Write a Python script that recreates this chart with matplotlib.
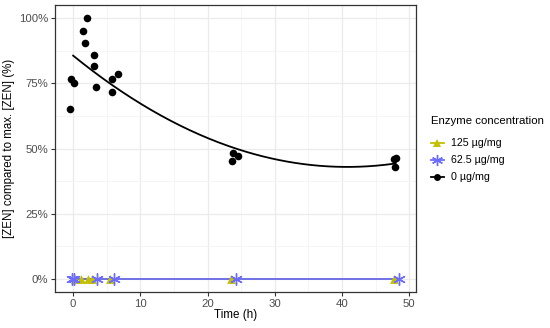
import matplotlib
matplotlib.use('Agg')
import matplotlib.pyplot as plt
import numpy as np
from matplotlib.lines import Line2D

plt.rcParams['font.family'] = ['Liberation Sans', 'DejaVu Sans']

# 0 ug/mg (control)
t0 = [-0.45, -0.3, 0.2, 1.5, 1.7, 2.0, 3.1, 3.1, 3.4, 5.8, 5.8, 6.7, 23.6, 23.8, 24.6, 47.8, 48.0, 47.9]
y0 = [65.3, 76.6, 75.0, 95.1, 90.6, 100.0, 86.0, 81.8, 73.5, 76.6, 71.6, 78.5, 45.4, 48.1, 47.1, 45.8, 46.2, 43.0]
# 125 ug/mg
t125 = [0.3, 1.1, 2.2, 2.8, 5.5, 23.5, 47.8]
y125 = [0, 0, 0, 0, 0, 0, 0]
# 62.5 ug/mg
t62 = [-0.2, 0.2, 3.6, 6.1, 24.2, 48.5]
y62 = [0, 0, 0, 0, 0, 0]

c125 = '#c2c000'
c62 = '#6b6bff'

fig = plt.figure(figsize=(5.5, 3.28), dpi=100)
ax = fig.add_axes([55 / 550, 1 - 292 / 328, (416.5 - 55) / 550, (292 - 5) / 328])

# quadratic fit for the control series
coef = np.polyfit(t0, y0, 2)
xs = np.linspace(0, max(t0), 200)
ax.plot(xs, np.polyval(coef, xs), color='black', lw=1.3, zorder=3)

# flat lines for the enzyme series
ax.plot([min(t125), max(t125)], [np.mean(y125)] * 2, color=c125, lw=1.3, zorder=2)
ax.plot([min(t62), max(t62)], [np.mean(y62)] * 2, color=c62, lw=1.3, zorder=2)

ax.scatter(t125, y125, marker='^', s=40, color=c125, zorder=4, linewidths=0)
ax.scatter(t62, y62, marker=(6, 2, 0), s=70, color=c62, zorder=4, linewidths=1)
ax.scatter(t0, y0, marker='o', s=30, color='black', zorder=5, linewidths=0)

ax.set_xlim(-2.7, 51.1)
ax.set_ylim(-5, 105)
ax.set_xticks([0, 10, 20, 30, 40, 50])
ax.set_yticks([0, 25, 50, 75, 100])
ax.set_yticklabels(['0%', '25%', '50%', '75%', '100%'])
ax.set_xticks(np.arange(5, 50, 10), minor=True)
ax.set_yticks([12.5, 37.5, 62.5, 87.5], minor=True)
ax.grid(True, which='major', color='#ebebeb', lw=0.9)
ax.grid(True, which='minor', color='#f4f4f4', lw=0.6)
ax.set_axisbelow(True)
for s in ax.spines.values():
    s.set_color('#333333')
    s.set_linewidth(0.9)
ax.tick_params(which='major', length=3, color='#333333', labelsize=8.2, labelcolor='#4d4d4d', pad=2)
ax.tick_params(which='minor', length=0)
ax.set_xlabel('Time (h)', fontsize=8.4, labelpad=0)
ax.set_ylabel('[ZEN] compared to max. [ZEN] (%)', fontsize=8.3, labelpad=3)

handles = [
    Line2D([], [], color=c125, marker='^', markersize=6, lw=1.3, markeredgewidth=0),
    Line2D([], [], color=c62, marker=(6, 2, 0), markersize=8, lw=1.3),
    Line2D([], [], color='black', marker='o', markersize=5, lw=1.3, markeredgewidth=0),
]
leg = fig.legend(handles, ['125 µg/mg', '62.5 µg/mg', '0 µg/mg'],
                 title='Enzyme concentration', loc='upper left',
                 bbox_to_anchor=(431 / 550, 1 - 116 / 328), frameon=False,
                 fontsize=7.7, title_fontsize=8.2, handlelength=1.2,
                 handletextpad=0.7, labelspacing=0.65, borderaxespad=0,
                 borderpad=0)
leg._legend_box.align = 'left'
leg._legend_box.sep = 9

fig.savefig('out.png', dpi=100)
